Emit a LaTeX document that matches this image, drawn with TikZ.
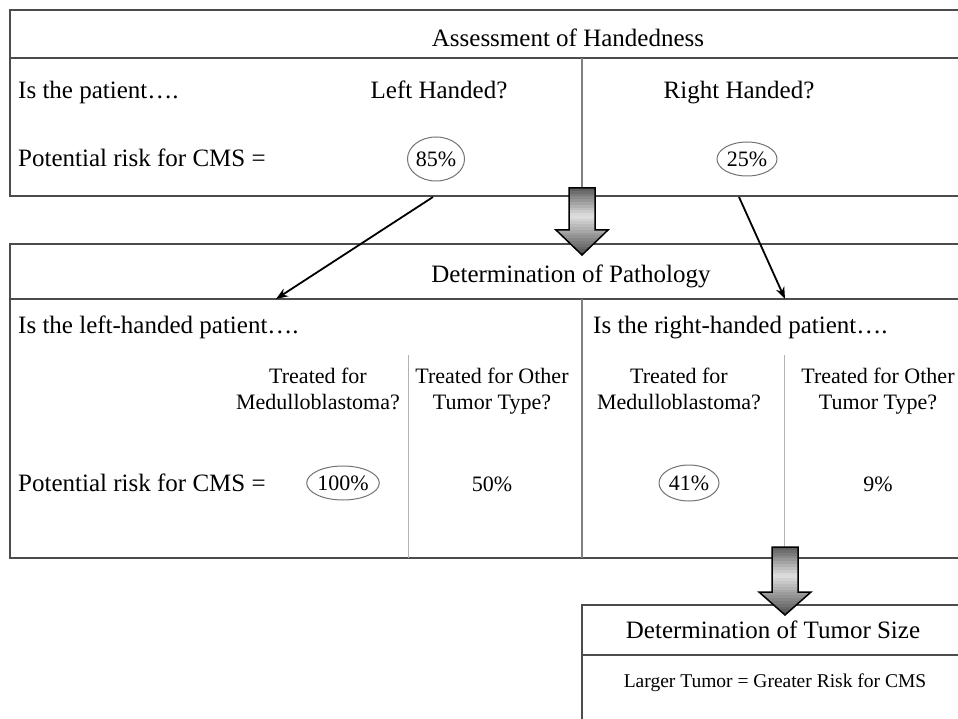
\documentclass[tikz,border=0pt]{standalone}
\usepackage{fontspec}
\setmainfont{Liberation Serif}
\usetikzlibrary{arrows.meta,shapes.geometric}
\def\blockarrow(#1:#2:#3:#4){%
	\begin{scope}
		\clip ({#1-13},#2) -- ({#1+13},#2) -- ({#1+13},#3) -- ({#1+26},#3) -- (#1,#4) -- ({#1-26},#3) -- ({#1-13},#3) -- cycle;
		\foreach \k in {0,...,23}{
			\pgfmathsetmacro\shadelevel{\k/24<0.4 ? 62-125*\k/24 : 12+100*(\k/24-0.4)}
			\fill[black!\shadelevel] ({#1-30},{#2+(#4-#2)*\k/24}) rectangle ({#1+30},{#2+(#4-#2)*(\k+1)/24+1});
		}
	\end{scope}
	\draw[draw=black, line width=1.5pt, line join=miter] ({#1-13},#2) -- ({#1+13},#2) -- ({#1+13},#3) -- ({#1+26},#3) -- (#1,#4) -- ({#1-26},#3) -- ({#1-13},#3) -- cycle;}

\begin{document}
\begin{tikzpicture}[x=1pt, y=-1pt,
		boxline/.style={line width=2.5pt, color=black!70},
		split/.style={line width=1.5pt, color=black!50},
		subsplit/.style={line width=1pt, color=black!30},
		headtext/.style={font=\fontsize{25}{30}\selectfont, inner sep=0pt, anchor=base},
		lefttext/.style={font=\fontsize{25}{30}\selectfont, inner sep=0pt, anchor=base west},
		cell/.style={font=\fontsize{22}{26}\selectfont, inner sep=0pt, anchor=north, align=center},
		valtext/.style={font=\fontsize{22}{26}\selectfont, inner sep=0pt, anchor=base},
		pct/.style={ellipse, draw=black!55, line width=1pt, font=\fontsize{22}{26}\selectfont, inner sep=0pt},
		link/.style={-{Stealth[length=12pt, width=9pt]}, line width=1.8pt}]
			%%%%% START %%%%%
			\useasboundingbox (0,0) rectangle (958,719);
			\clip (0,0) rectangle (958,719);
			
			% handedness
			\draw[boxline] (10,10) rectangle (975,196);
			\draw[boxline] (10,58) -- (975,58);
			\draw[split] (582,58) -- (582,196);
			\node[headtext] (hhead) at (568,47) {Assessment of Handedness};
			\node[lefttext] (hask) at (18,99) {Is the patient….};
			\node[headtext] (hleft) at (439,99) {Left Handed?};
			\node[headtext] (hright) at (739,99) {Right Handed?};
			\node[lefttext] (hrisk) at (18,167) {Potential risk for CMS =};
			\node[pct, minimum width=56pt, minimum height=44pt] (p85) at (436,159) {85\%};
			\node[pct, minimum width=60pt, minimum height=34pt] (p25) at (747,159) {25\%};
			
			% pathology
			\draw[boxline] (10,244) rectangle (975,558);
			\draw[boxline] (10,299) -- (975,299);
			\draw[split] (582,299) -- (582,558);
			\draw[subsplit] (408,355) -- (408,558);
			\draw[subsplit] (784,355) -- (784,558);
			\node[headtext] (phead) at (571,283) {Determination of Pathology};
			\node[lefttext] (plask) at (18,333) {Is the left-handed patient….};
			\node[lefttext] (prask) at (593,333) {Is the right-handed patient….};
			\node[cell] (lmed) at (318,368) {Treated for\\Medulloblastoma?};
			\node[cell] (loth) at (492,368) {Treated for Other\\Tumor Type?};
			\node[cell] (rmed) at (679,368) {Treated for\\Medulloblastoma?};
			\node[cell] (roth) at (878,368) {Treated for Other\\Tumor Type?};
			\node[lefttext] (prisk) at (18,491) {Potential risk for CMS =};
			\node[pct, minimum width=72pt, minimum height=34pt] (p100) at (343,483) {100\%};
			\node[valtext] (p50) at (492,491) {50\%};
			\node[pct, minimum width=60pt, minimum height=36pt] (p41) at (689,483) {41\%};
			\node[valtext] (p9) at (878,491) {9\%};
			
			% tumor size
			\draw[boxline] (582,605) rectangle (975,740);
			\draw[boxline] (582,655) -- (975,655);
			\node[headtext] (shead) at (773,638) {Determination of Tumor Size};
			\node[headtext, font=\fontsize{19.5}{23}\selectfont] (snote) at (775,687) {Larger Tumor = Greater Risk for CMS};
			
			% links
			\coordinate (lfoot) at (433,197);
			\coordinate (ltip) at (276,299);
			\coordinate (rfoot) at (739,197);
			\coordinate (rtip) at (785,299);
			\draw[link] (lfoot) -- (ltip);
			\draw[link] (rfoot) -- (rtip);
			
			\blockarrow(582:188:230:255)
			\blockarrow(785:547:592:615)
			%%%%% END %%%%%
		\end{tikzpicture}
\end{document}
